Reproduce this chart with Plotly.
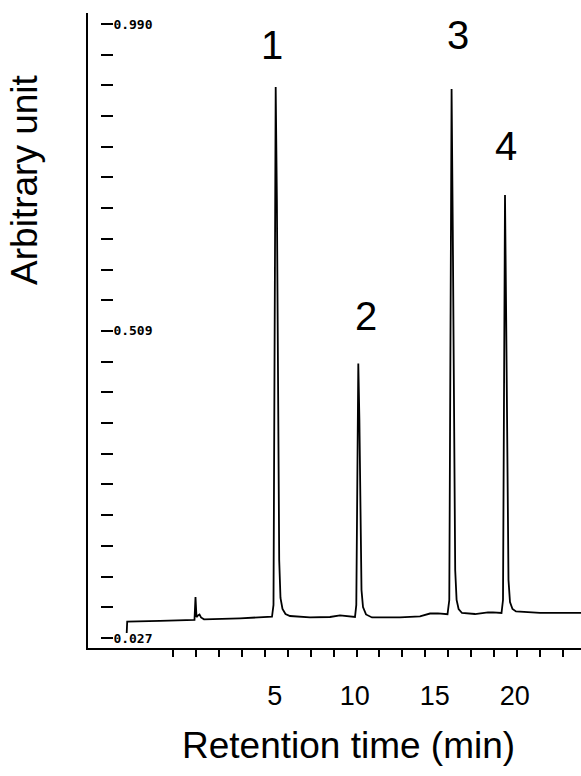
import plotly.graph_objects as go

# ---- data ----
retention_time = [-4.253, -4.222, -2.172, -0.297, -0.016, 0.047, 0.109, 0.203, 0.297, 0.391,
                  0.578, 2.828, 4.828,
                  4.922, 4.991, 5.059, 5.134, 5.203, 5.278, 5.359, 5.484, 5.672, 5.953,
                  7.203, 8.453, 9.078, 9.578, 10.016,
                  10.097, 10.159, 10.222, 10.291, 10.347, 10.422, 10.516, 10.703, 11.078,
                  12.828, 14.078, 14.703, 15.203, 15.797,
                  15.909, 15.978, 16.053, 16.128, 16.197, 16.278, 16.366, 16.491, 16.703,
                  17.516, 18.328, 18.641, 19.172,
                  19.266, 19.328, 19.391, 19.466, 19.534, 19.609, 19.703, 19.859, 20.078,
                  21.578, 24.141]
signal = [0.0348, 0.0526, 0.0537, 0.0555, 0.0555, 0.0913, 0.0599, 0.0623, 0.0639, 0.0592,
          0.0563, 0.0579, 0.0603,
          0.0788, 0.4003, 0.8912, 0.7140, 0.3689, 0.1493, 0.0897, 0.0725, 0.0646, 0.0615,
          0.0592, 0.0599, 0.0626, 0.0607, 0.0599,
          0.0788, 0.2905, 0.4575, 0.3689, 0.1964, 0.1023, 0.0756, 0.0639, 0.0592,
          0.0592, 0.0610, 0.0654, 0.0657, 0.0642,
          0.0866, 0.4316, 0.8880, 0.6669, 0.3219, 0.1337, 0.0866, 0.0725, 0.0662,
          0.0646, 0.0670, 0.0673, 0.0662,
          0.0866, 0.4003, 0.7218, 0.5257, 0.2748, 0.1180, 0.0835, 0.0725, 0.0686,
          0.0665, 0.0665]

peak_labels = ["1", "2", "3", "4"]
peak_times = [5.059, 10.222, 16.053, 19.391]
peak_heights = [0.8912, 0.4575, 0.8880, 0.7218]

x_tick_values = [5, 10, 15, 20]
x_tick_labels = ["5", "10", "15", "20"]
y_tick_values = [0.027, 0.509, 0.990]
y_tick_labels = ["0.027", "0.509", "0.990"]

# recorder chart divisions (tick marks only)
x_division_start, x_division_step, x_division_count = -4.25, 1.436, 20
x_divisions = [x_division_start + x_division_step * k for k in range(x_division_count)]

# ---- styling ----
SANS = "Liberation Sans, Arial, sans-serif"
MONO = "DejaVu Sans Mono, monospace"
label_shift = [(-4, 42), (8, 48), (6, 54), (1, 49)]

fig = go.Figure()
fig.add_trace(go.Scatter(x=retention_time, y=signal, mode="lines",
                         line=dict(color="black", width=1.8), showlegend=False,
                         hoverinfo="skip"))
# invisible trace so the recorder tick axes are drawn
fig.add_trace(go.Scatter(x=[retention_time[0]], y=[signal[0]], xaxis="x2", yaxis="y2",
                         mode="markers", marker=dict(opacity=0), showlegend=False,
                         hoverinfo="skip"))

for lab, t, h, (dx, dy) in zip(peak_labels, peak_times, peak_heights, label_shift):
    fig.add_annotation(x=t, y=h, text=lab, showarrow=False, xanchor="center",
                       yanchor="middle", xshift=dx, yshift=dy,
                       font=dict(family=SANS, size=40, color="black"))

fig.add_annotation(xref="paper", yref="paper", x=0.5294, y=-0.153,
                   text="Retention time (min)", showarrow=False,
                   xanchor="center", yanchor="middle",
                   font=dict(family=SANS, size=37, color="black"))
fig.add_annotation(xref="paper", yref="paper", x=-0.13, y=0.737,
                   text="Arbitrary unit", showarrow=False, textangle=-90,
                   xanchor="center", yanchor="middle",
                   font=dict(family=SANS, size=37, color="black"))

xrange = [-6.672, 24.141]
yrange = [0.0113, 1.0072]
fig.update_layout(
    width=581, height=776,
    margin=dict(l=88, r=0, t=13, b=128, autoexpand=False),
    paper_bgcolor="white", plot_bgcolor="white",
    xaxis=dict(range=xrange, showline=True, linecolor="black", linewidth=2,
               showgrid=False, zeroline=False, ticks="", automargin=False,
               tickvals=x_tick_values, ticktext=x_tick_labels,
               tickfont=dict(family=SANS, size=27, color="black"),
               ticklabelstandoff=23),
    xaxis2=dict(range=xrange, overlaying="x", anchor="y", side="bottom",
                showline=False, showgrid=False, zeroline=False, automargin=False,
                ticks="outside", ticklen=8, tickwidth=2.2, tickcolor="black",
                tickmode="array", tickvals=x_divisions, showticklabels=False),
    yaxis=dict(range=yrange, showline=True, linecolor="black", linewidth=2,
               showgrid=False, zeroline=False, ticks="", showticklabels=False,
               automargin=False),
    yaxis2=dict(range=yrange, overlaying="y", anchor="free", position=0.0243, side="left",
                showline=False, showgrid=False, zeroline=False, automargin=False,
                ticks="inside", ticklen=12, tickwidth=1.6, tickcolor="black",
                tickvals=y_tick_values, ticktext=y_tick_labels,
                ticklabelposition="inside",
                tickfont=dict(family=MONO, size=13, color="black", weight="bold"),
                minor=dict(ticks="inside", ticklen=12, tickwidth=1.6, tickcolor="black",
                           tick0=0.027, dtick=0.04815, showgrid=False)),
)

fig.write_html("out.html", config={"displayModeBar": False},
               post_script="document.body.style.margin='0';"
                           "document.body.style.overflow='hidden';")
